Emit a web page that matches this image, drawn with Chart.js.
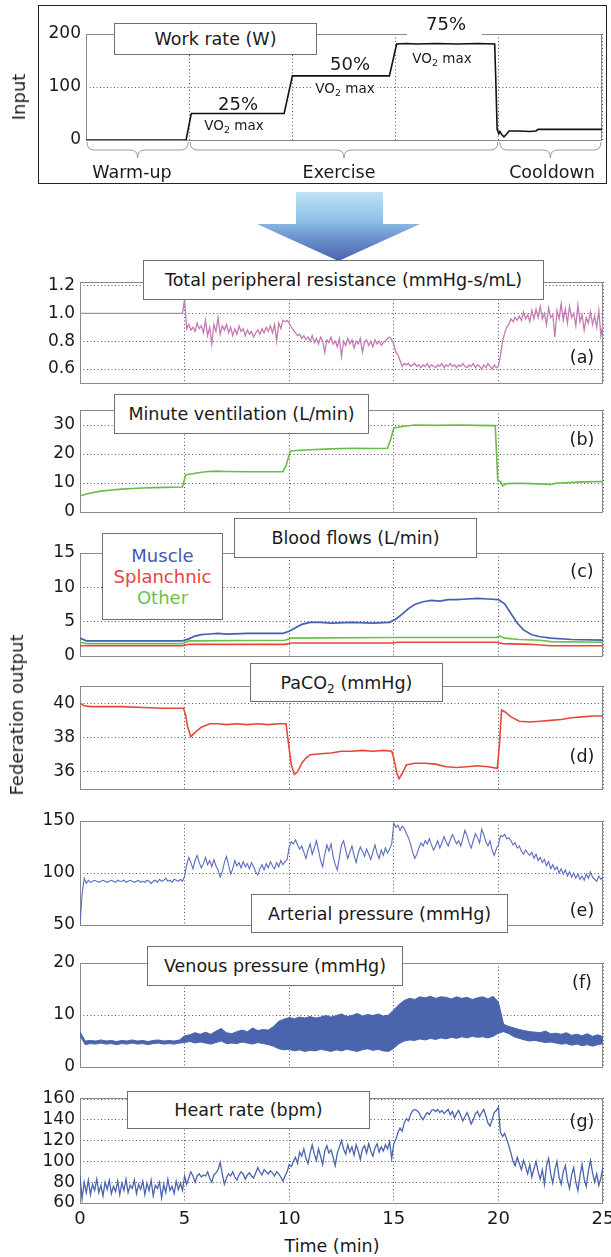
<!DOCTYPE html>
<html>
<head>
<meta charset="utf-8">
<script src="https://cdn.jsdelivr.net/npm/chart.js@4.4.1/dist/chart.umd.min.js"></script>
<style>
html, body { margin: 0; padding: 0; background: #fff; }
#fig { position: relative; width: 611px; height: 1257px; overflow: hidden; font-family: "DejaVu Sans", sans-serif; color: #1a1a1a; }
#fig canvas { position: absolute; left: 0; }
.lbl { position: absolute; white-space: nowrap; transform: translate(-50%, -50%); line-height: 1; font-size: 17.5px; }
.rot { transform: translate(-50%, -50%) rotate(-90deg); }
.box { position: absolute; background: #fff; border: 1px solid #707070; box-sizing: border-box; display: flex; align-items: center; justify-content: center; font-size: 17.5px; white-space: nowrap; }
.wb { background: #fff; padding: 1px 3px; }
sub { font-size: 70%; vertical-align: -0.3em; line-height: 0; }
#outer { position: absolute; left: 38px; top: 5px; width: 569px; height: 179px; border: 1.5px solid #222; box-sizing: border-box; }
#arrow { position: absolute; left: 257px; top: 192px; width: 163px; height: 69px;
  background: linear-gradient(to bottom, #bfe2f4 0%, #8fc3e8 40%, #6e95d0 65%, #4a62ad 100%);
  clip-path: polygon(39px 0, 126px 0, 126px 32px, 163px 32px, 81.5px 69px, 0 32px, 39px 32px); }
.legend div { line-height: 21px; font-size: 18px; }
</style>
</head>
<body>
<div id="fig">
  <div id="outer"></div>
  <div id="arrow"></div>
</div>
<script>
// ---- data ----
const timeTicks = [0, 5, 10, 15, 20, 25];

// work rate (W), breakpoints
const workTime  = [0, 4.85, 5.1, 9.6, 10.0, 14.7, 15.05, 15.5, 16, 17, 18, 19, 19.8, 19.85, 19.92, 20.0, 20.05, 20.15, 20.25, 20.35, 20.5, 21, 21.5, 21.8, 21.9, 25];
const workValue = [0, 0, 50, 50, 121, 121, 181, 182, 181, 182, 181, 182, 181, 120, 20, 12, 16, 10, 6, 10, 17, 17, 16, 17, 20, 20];
const workTicks = [0, 100, 200];

// (a) total peripheral resistance, every 0.1 min
const tprValue = [
  1,1,1,1,1,1,1,1,1,1,
  1,1,1,1,1,1,1,1,1,1,
  1,1,1,1,1,1,1,1,1,1,
  1,1,1,1,1,1,1,1,1,1,
  1,1,1,1,1,1,1,1,1,1,
  1.10,0.89,0.92,0.88,0.90,0.87,0.93,0.89,0.91,0.86,
  0.95,0.84,0.90,0.78,0.92,0.87,0.97,0.85,0.91,0.88,
  0.92,0.86,0.90,0.84,0.89,0.85,0.91,0.87,0.89,0.84,
  0.88,0.85,0.87,0.83,0.86,0.88,0.85,0.89,0.86,0.90,
  0.87,0.91,0.86,0.92,0.80,0.93,0.89,0.95,0.94,0.95,
  0.93,0.90,0.88,0.86,0.84,0.85,0.82,0.84,0.81,0.83,
  0.80,0.84,0.79,0.82,0.78,0.83,0.80,0.72,0.81,0.79,
  0.83,0.78,0.80,0.76,0.82,0.69,0.80,0.77,0.82,0.78,
  0.81,0.75,0.80,0.78,0.82,0.72,0.79,0.81,0.77,0.80,
  0.76,0.81,0.78,0.80,0.77,0.79,0.80,0.82,0.83,0.81,
  0.78,0.72,0.70,0.66,0.62,0.64,0.63,0.64,0.62,0.63,
  0.64,0.62,0.63,0.61,0.63,0.62,0.64,0.61,0.63,0.62,
  0.61,0.63,0.62,0.64,0.61,0.63,0.62,0.64,0.62,0.63,
  0.61,0.63,0.62,0.64,0.62,0.61,0.63,0.62,0.64,0.61,
  0.63,0.62,0.60,0.63,0.61,0.64,0.62,0.60,0.63,0.61,
  0.62,0.70,0.80,0.86,0.90,0.92,0.96,0.94,0.97,0.95,
  0.98,0.95,1.01,0.96,0.99,0.94,1.02,0.96,1.03,0.97,
  1.05,0.96,1.00,0.92,1.04,0.97,0.99,0.83,1.02,0.96,
  1.07,0.95,1.03,0.93,1.05,0.97,1.00,0.91,1.06,0.94,
  0.99,0.88,0.97,0.93,1.01,0.92,0.98,0.90,1.02,0.84,
  0.92
];
const tprTicks = [0.6, 0.8, 1.0, 1.2];

// (b) minute ventilation
const ventTime  = [0, 0.3, 0.7, 1, 1.5, 2, 2.5, 3, 3.5, 4, 4.9, 4.95, 5.05, 5.5, 6, 6.5, 7, 8, 9, 9.7, 9.85, 10.05, 10.3, 11, 12, 13, 14, 14.7, 14.85, 15.0, 15.4, 16, 17, 18, 19, 19.85, 19.9, 19.97, 20.1, 20.2, 20.4, 21, 21.5, 22, 22.5, 22.8, 23, 24, 25];
const ventValue = [5.5, 6.2, 6.8, 7.2, 7.6, 7.9, 8.1, 8.3, 8.4, 8.5, 8.6, 10, 12.8, 13.4, 13.9, 14.1, 14.0, 13.9, 13.9, 13.9, 16, 21.0, 21.2, 21.5, 21.8, 22.0, 21.9, 22.0, 25, 29.0, 29.5, 30.0, 29.9, 30.0, 29.9, 29.8, 22, 10.8, 10.5, 9.0, 9.8, 9.9, 9.8, 9.7, 9.5, 10.0, 10.0, 10.4, 10.5];
const ventTicks = [0, 10, 20, 30];

// (c) blood flows
const muscleTime  = [0, 0.3, 1, 2, 3, 4, 4.9, 5.2, 5.5, 5.8, 6.2, 6.6, 7, 8, 9, 9.7, 10.0, 10.3, 10.6, 11, 11.5, 12, 13, 14, 14.8, 15.1, 15.4, 15.7, 16, 16.4, 16.8, 17.2, 17.6, 18, 18.5, 19, 19.5, 20.0, 20.3, 20.6, 20.9, 21.2, 21.6, 22, 22.5, 23.5, 25];
const muscleValue = [2.6, 2.2, 2.2, 2.2, 2.2, 2.2, 2.2, 2.5, 2.9, 3.1, 3.2, 3.3, 3.2, 3.3, 3.3, 3.3, 3.6, 4.1, 4.6, 4.9, 4.9, 4.8, 4.9, 4.8, 4.9, 5.4, 6.1, 6.9, 7.5, 7.9, 8.1, 8.0, 8.2, 8.2, 8.3, 8.4, 8.3, 8.2, 7.6, 6.2, 4.8, 3.8, 3.1, 2.8, 2.6, 2.4, 2.3];
const splanchTime  = [0, 4.9, 5.2, 9.8, 10.1, 14.9, 15.2, 19.9, 20.2, 21.5, 22.5, 25];
const splanchValue = [1.5, 1.5, 1.7, 1.7, 1.9, 1.9, 2.0, 2.0, 1.8, 1.7, 1.5, 1.5];
const otherTime  = [0, 0.3, 4.9, 5.2, 9.8, 10.1, 14.9, 15.2, 19.9, 20.05, 20.3, 21, 22, 22.5, 25];
const otherValue = [2.0, 1.8, 1.8, 2.2, 2.3, 2.6, 2.7, 2.7, 2.7, 2.9, 2.6, 2.4, 2.3, 2.1, 2.0];
const flowTicks = [0, 5, 10, 15];

// (d) PaCO2
const pacoTime  = [0, 0.2, 0.5, 1, 2, 3, 4, 4.95, 5.05, 5.15, 5.3, 5.5, 5.8, 6.2, 6.6, 7, 7.5, 8, 8.5, 9, 9.5, 9.85, 9.95, 10.1, 10.25, 10.4, 10.6, 10.8, 11, 11.5, 12, 12.5, 13, 13.5, 14, 14.5, 14.9, 15.0, 15.15, 15.25, 15.4, 15.6, 16, 16.5, 17, 17.5, 18, 18.5, 19, 19.5, 19.95, 20.05, 20.15, 20.3, 20.6, 21, 21.5, 22, 22.5, 23, 23.5, 24, 24.5, 25];
const pacoValue = [40.0, 39.85, 39.8, 39.8, 39.8, 39.75, 39.7, 39.7, 39.3, 38.6, 38.05, 38.3, 38.6, 38.8, 38.8, 38.75, 38.8, 38.75, 38.8, 38.75, 38.8, 38.8, 37.8, 36.4, 35.85, 36.0, 36.5, 36.8, 37.0, 37.05, 37.1, 37.2, 37.2, 37.25, 37.2, 37.25, 37.2, 36.8, 35.9, 35.6, 35.9, 36.4, 36.5, 36.5, 36.45, 36.3, 36.25, 36.3, 36.35, 36.3, 36.2, 37.6, 39.6, 39.5, 39.2, 38.95, 38.9, 38.95, 39.0, 39.05, 39.15, 39.2, 39.25, 39.25];
const pacoTicks = [36, 38, 40];

// (e) arterial pressure, every 0.1 min
const artValue = [
  50,80,95,90,93,91,92,93,92,91,
  92,93,92,91,92,93,92,91,93,92,
  92,93,91,92,93,92,91,92,93,91,
  92,91,93,92,90,92,93,91,94,92,
  93,95,92,93,91,94,93,92,94,92,
  97,108,115,110,104,112,117,110,105,109,
  115,108,112,106,113,107,103,96,101,110,
  116,108,99,104,112,107,110,105,111,106,
  109,104,110,106,101,98,104,108,103,109,
  105,111,107,104,110,106,112,108,111,113,
  125,130,128,132,127,123,126,120,114,122,
  128,118,124,131,122,112,106,118,127,121,
  128,116,108,103,115,127,131,122,114,120,
  126,117,110,119,125,121,116,123,118,113,
  120,127,119,114,122,117,124,119,123,128,
  148,144,146,141,145,143,138,134,128,120,
  114,118,124,129,126,131,128,133,127,122,
  126,131,124,129,135,130,126,132,137,133,
  128,131,126,133,141,136,129,124,131,138,
  134,129,142,137,130,126,131,122,117,123,
  127,136,135,137,133,134,131,127,129,124,
  126,121,118,122,119,117,120,114,118,112,
  115,110,113,107,111,104,108,103,106,100,
  104,99,103,97,101,96,100,95,99,94,
  97,93,99,95,101,96,94,92,97,94,
  96
];
const artTicks = [50, 100, 150];

// (f) venous pressure, upper and lower edge of the band, every 0.25 min
const venHigh = [
  6.8,5.0,5.1,5.0,5.2,5.0,5.1,4.9,5.1,5.0,
  5.2,5.0,5.1,4.9,5.1,5.2,5.0,5.1,5.0,5.2,
  6.0,6.2,6.6,6.3,6.7,6.3,6.9,7.4,6.6,6.4,
  6.8,7.1,6.8,7.5,7.0,7.2,7.1,7.8,8.8,9.2,
  9.5,9.3,9.6,9.4,9.7,9.4,9.6,9.9,9.6,9.9,
  10.2,9.7,9.9,10.3,9.8,10.1,9.9,10.2,9.8,10.0,
  11.0,12.0,12.8,13.2,13.0,13.5,13.3,13.6,13.2,13.5,
  13.4,13.1,13.5,13.2,13.4,13.0,13.3,13.5,13.1,13.6,
  12.5,8.2,7.8,7.5,7.2,7.0,6.8,6.7,6.6,6.9,
  6.4,6.5,6.3,6.6,6.1,6.3,6.0,6.4,5.9,6.2,
  5.8
];
const venLow = [
  6.0,4.3,4.5,4.4,4.6,4.4,4.5,4.3,4.5,4.4,
  4.6,4.4,4.5,4.3,4.5,4.6,4.4,4.5,4.4,4.6,
  4.7,4.9,4.6,4.8,4.6,4.4,4.7,5.0,4.5,4.6,
  4.5,4.8,4.6,4.4,4.7,4.5,4.3,4.0,3.5,3.3,
  3.4,3.1,3.3,3.0,3.2,3.1,3.4,3.2,3.0,3.3,
  3.1,3.4,3.2,3.0,3.3,3.5,3.2,3.4,3.1,3.0,
  3.6,4.5,5.0,5.2,5.1,5.4,5.2,5.5,5.3,5.6,
  5.4,5.7,5.5,5.8,5.6,5.9,5.7,5.8,5.6,5.9,
  6.5,6.8,6.4,5.8,5.5,5.2,5.0,5.1,4.9,4.7,
  4.8,4.6,4.4,4.5,4.2,4.4,4.1,4.3,4.0,4.3,
  4.5
];
const venTicks = [0, 10, 20];

// (g) heart rate, every 0.1 min
const hrValue = [
  86,64,80,70,82,68,78,72,83,70,
  77,67,80,73,82,69,76,71,81,68,
  79,72,83,70,77,74,82,69,78,73,
  81,68,79,72,82,67,77,74,80,65,
  78,70,83,72,76,69,81,73,79,72,
  86,78,84,90,86,80,86,88,85,87,
  86,90,84,80,87,89,92,99,88,78,
  84,88,86,90,85,82,87,90,88,83,
  87,89,86,84,89,94,90,87,92,90,
  88,91,89,86,90,88,85,81,86,90,
  97,95,100,104,98,109,105,112,103,98,
  108,116,107,101,112,105,97,110,115,108,
  111,104,96,108,114,120,112,107,116,109,
  114,106,116,110,102,112,115,108,117,110,
  105,113,117,109,114,110,116,112,119,103,
  117,121,128,132,129,137,141,139,145,149,
  150,149,147,143,140,144,147,145,149,150,
  148,150,147,149,146,148,150,145,148,142,
  146,149,144,139,143,147,142,136,140,146,
  148,143,147,150,144,137,134,140,147,149,
  152,128,124,127,121,115,108,100,96,104,
  98,92,101,95,88,97,85,93,100,90,
  83,92,78,96,103,88,79,92,100,85,
  78,90,96,82,74,87,94,80,72,86,
  97,83,76,91,101,89,80,88,77,84,
  95
];
const hrTicks = [60, 80, 100, 120, 140, 160];

// ---- helpers ----
const FONT = "DejaVu Sans";
const GRID = "#555";
const FRAME = "#8a8a8a";
const fig = document.getElementById("fig");

function xy(times, values) {
  return times.map((t, i) => ({ x: t, y: values[i] }));
}
function sampled(step, values) {
  return values.map((v, i) => ({ x: Math.round(i * step * 100) / 100, y: v }));
}
function line(data, color, width, extra) {
  return Object.assign({ data: data, borderColor: color, borderWidth: width, pointRadius: 0, fill: false, tension: 0 }, extra || {});
}

const framePlugin = {
  id: "frame",
  beforeDatasetsDraw(chart) {
    const { ctx, chartArea: a } = chart;
    ctx.save();
    ctx.strokeStyle = FRAME;
    ctx.lineWidth = 1;
    ctx.strokeRect(Math.round(a.left) + 0.5, Math.round(a.top) + 0.5, Math.round(a.right - a.left) - 1, Math.round(a.bottom - a.top));
    ctx.restore();
  }
};

// curly braces under the work-rate panel
const braceSpans = [[0, 5], [5, 20], [20, 25]];
const bracePlugin = {
  id: "braces",
  afterDraw(chart) {
    if (!chart.options.plugins.braces) return;
    const { ctx, scales: { x }, chartArea: a } = chart;
    const y = a.bottom + 2, h = 16, q = 8;
    ctx.save();
    ctx.strokeStyle = "#999";
    ctx.lineWidth = 1;
    braceSpans.forEach(([t1, t2]) => {
      const x1 = x.getPixelForValue(t1) + 1, x2 = x.getPixelForValue(t2) - 1;
      const m = (x1 + x2) / 2, r = 7;
      ctx.beginPath();
      ctx.moveTo(x1, y);
      ctx.quadraticCurveTo(x1, y + q, x1 + r, y + q);
      ctx.lineTo(m - r, y + q);
      ctx.quadraticCurveTo(m, y + q, m, y + h);
      ctx.quadraticCurveTo(m, y + q, m + r, y + q);
      ctx.lineTo(x2 - r, y + q);
      ctx.quadraticCurveTo(x2, y + q, x2, y);
      ctx.stroke();
    });
    ctx.restore();
  }
};

function makePanel(p) {
  const padTop = 16;
  const canvas = document.createElement("canvas");
  const w = 640;
  const h = p.bottom - p.top + padTop + p.below;
  canvas.width = w;
  canvas.height = h;
  canvas.style.top = (p.top - padTop) + "px";
  canvas.style.width = w + "px";
  canvas.style.height = h + "px";
  fig.appendChild(canvas);
  new Chart(canvas, {
    type: "line",
    data: { datasets: p.datasets },
    options: {
      responsive: false,
      animation: false,
      events: [],
      layout: { padding: { left: 0, right: w - p.right, top: padTop, bottom: 0 } },
      plugins: { legend: { display: false }, tooltip: { enabled: false }, braces: !!p.braces },
      scales: {
        x: {
          type: "linear", min: 0, max: 25,
          afterBuildTicks: s => { s.ticks = timeTicks.map(v => ({ value: v })); },
          afterFit: s => { s.height = p.below; },
          ticks: { display: !!p.xLabels, autoSkip: false, maxRotation: 0, padding: 6, color: "#1a1a1a", font: { family: FONT, size: 18 } },
          grid: { color: GRID, lineWidth: 1, drawTicks: false },
          border: { display: false, dash: [1, 2.5] }
        },
        y: {
          min: p.yMin, max: p.yMax,
          afterBuildTicks: s => { s.ticks = p.ticks.map(v => ({ value: v })); },
          afterFit: s => { s.width = p.left; },
          ticks: { autoSkip: false, padding: 5, color: "#1a1a1a", font: { family: FONT, size: 17 }, callback: p.fmt || (v => String(v)) },
          grid: { color: GRID, lineWidth: 1, drawTicks: false },
          border: { display: false, dash: [1, 2.5] }
        }
      }
    },
    plugins: [framePlugin, bracePlugin]
  });
}

const panels = [
  { left: 86, right: 602, top: 34, bottom: 140, below: 30, yMin: 0, yMax: 200, ticks: workTicks, braces: true,
    datasets: [line(xy(workTime, workValue), "#111", 1.6)] },
  { left: 80, right: 603, top: 282, bottom: 383, below: 16, yMin: 0.5, yMax: 1.225, ticks: tprTicks, fmt: v => v.toFixed(1),
    datasets: [line(sampled(0.1, tprValue), "#c47ab4", 1.3)] },
  { left: 80, right: 603, top: 410, bottom: 512, below: 16, yMin: 0, yMax: 35.2, ticks: ventTicks,
    datasets: [line(xy(ventTime, ventValue), "#67bd45", 1.6)] },
  { left: 80, right: 603, top: 553, bottom: 656, below: 16, yMin: 0, yMax: 15, ticks: flowTicks,
    datasets: [
      line(xy(otherTime, otherValue), "#6cc04a", 1.6),
      line(xy(splanchTime, splanchValue), "#e6443c", 1.6),
      line(xy(muscleTime, muscleValue), "#4460b0", 1.7)
    ] },
  { left: 80, right: 603, top: 686, bottom: 789, below: 16, yMin: 35, yMax: 41, ticks: pacoTicks,
    datasets: [line(xy(pacoTime, pacoValue), "#e5483a", 1.6)] },
  { left: 80, right: 603, top: 821, bottom: 925, below: 16, yMin: 50, yMax: 150, ticks: artTicks,
    datasets: [line(sampled(0.1, artValue), "#5a6cc0", 1.1)] },
  { left: 80, right: 603, top: 963, bottom: 1067, below: 16, yMin: 0, yMax: 20, ticks: venTicks,
    datasets: [
      line(sampled(0.25, venHigh), "#4a64ad", 1),
      line(sampled(0.25, venLow), "#4a64ad", 1, { fill: "-1", backgroundColor: "#4a64ad" })
    ] },
  { left: 80, right: 603, top: 1098, bottom: 1203, below: 32, yMin: 60, yMax: 161, ticks: hrTicks, xLabels: true,
    datasets: [line(sampled(0.1, hrValue), "#4a64ad", 1.3)] }
];
panels.forEach(makePanel);

// ---- text overlays ----
function addBox(html, x1, y1, x2, y2) {
  const d = document.createElement("div");
  d.className = "box";
  d.style.left = x1 + "px"; d.style.top = y1 + "px";
  d.style.width = (x2 - x1) + "px"; d.style.height = (y2 - y1) + "px";
  d.innerHTML = "<span>" + html + "</span>";
  fig.appendChild(d);
  return d;
}
function addLabel(html, x, y, cls, size) {
  const d = document.createElement("div");
  d.className = "lbl" + (cls ? " " + cls : "");
  d.style.left = x + "px"; d.style.top = y + "px";
  if (size) d.style.fontSize = size + "px";
  d.innerHTML = html;
  fig.appendChild(d);
  return d;
}

addBox("Work rate (W)", 114, 23, 317, 55);
addBox("Total peripheral resistance (mmHg-s/mL)", 143, 260, 544, 300);
addBox("Minute ventilation (L/min)", 114, 394, 369, 434);
addBox("Blood flows (L/min)", 234, 518, 477, 558);
addBox("PaCO<sub>2</sub> (mmHg)", 250, 663, 443, 702);
addBox("Arterial pressure (mmHg)", 251, 894, 508, 933);
addBox("Venous pressure (mmHg)", 147, 946, 403, 986);
addBox("Heart rate (bpm)", 127, 1091, 370, 1129);

addBox('<div class="legend" style="text-align:center"><div style="color:#3f5bb0">Muscle</div><div style="color:#e6443c">Splanchnic</div><div style="color:#6cc04a">Other</div></div>', 102, 533, 223, 620);

// white gap in the top frame behind "75%"
const gap = document.createElement("div");
gap.style.cssText = "position:absolute;left:407px;top:16px;width:75px;height:21px;background:#fff";
fig.appendChild(gap);

addLabel("25%", 238, 104, "", 18);
addLabel("VO<sub>2</sub> max", 234, 126, "wb", 13.5);
addLabel("50%", 350, 64, "", 18);
addLabel("VO<sub>2</sub> max", 345, 89, "wb", 13.5);
addLabel("75%", 446, 24, "", 18);
addLabel("VO<sub>2</sub> max", 442, 59, "wb", 13.5);

addLabel("Warm-up", 132, 173);
addLabel("Exercise", 339, 173);
addLabel("Cooldown", 552, 173);

addLabel("Input", 19, 97, "rot", 18);
addLabel("Federation output", 17, 715, "rot", 18);
addLabel("Time (min)", 332, 1247, "", 17.5);

const tags = [["(a)", 358], ["(b)", 440], ["(c)", 572], ["(d)", 757], ["(e)", 911], ["(f)", 983], ["(g)", 1122]];
tags.forEach(([t, y]) => addLabel(t, 582, y));
</script>
</body>
</html>
